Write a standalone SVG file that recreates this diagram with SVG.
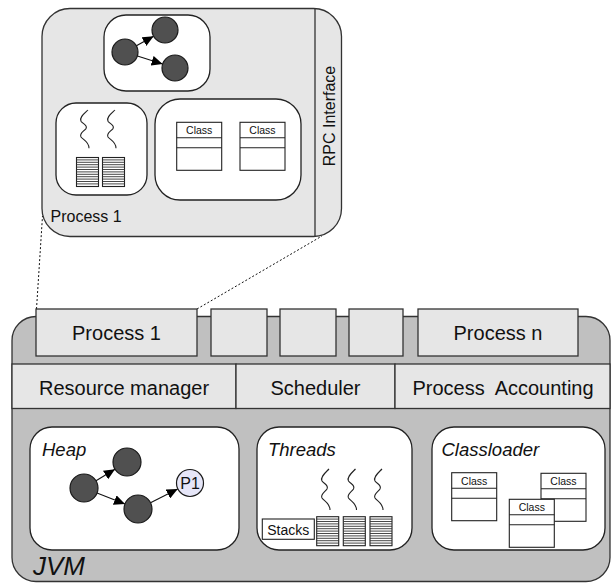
<svg xmlns="http://www.w3.org/2000/svg" xmlns:xlink="http://www.w3.org/1999/xlink" width="611" height="583" viewBox="0 0 611 583">
<style>
text{font-family:"Liberation Sans",Arial,sans-serif;fill:#111}
.box{fill:#e6e6e6;stroke:#333;stroke-width:1.3}
.inner{fill:#fff;stroke:#222;stroke-width:1.3}
.lbl{font-size:20px;text-anchor:middle}
.it{font-style:italic;font-size:18.5px}
.node{fill:#505050;stroke:#1a1a1a;stroke-width:1.2}
.edge{stroke:#111;stroke-width:1.1;fill:none;marker-end:url(#ah)}
.dot{stroke:#111;stroke-width:1;stroke-dasharray:2 2;fill:none}
.sq{fill:none;stroke:#222;stroke-width:1.1}
.cls{font-size:10.5px;text-anchor:middle}
</style>
<defs>
<marker id="ah" markerUnits="userSpaceOnUse" markerWidth="11" markerHeight="10" refX="11" refY="5" orient="auto">
<path d="M0,0 L11,5 L0,10 z" fill="#000"/>
</marker>
<g id="stack">
<rect x="0" y="0" width="22" height="29" fill="#fff" stroke="#222" stroke-width="1.1"/>
<path d="M0,2.4H22M0,4.8H22M0,7.2H22M0,9.6H22M0,12H22M0,14.4H22M0,16.8H22M0,19.2H22M0,21.6H22M0,24H22M0,26.4H22" stroke="#333" stroke-width="0.9"/>
</g>
<path id="squig" class="sq" d="M5,0 C1,4 -4,8 -2,12 C0,15 5,16 3,20 C1,23 -4,25 -2,29 C0,32 6,34 6,41"/>
<g id="classbox">
<rect x="0" y="0" width="45" height="48" fill="#fff" stroke="#222" stroke-width="1.1"/>
<path d="M0,15.5H45M0,25.5H45" stroke="#222" stroke-width="1.1"/>
<text class="cls" x="22.5" y="12">Class</text>
</g>
</defs>

<g id="connectors">
<line class="dot" x1="36.5" y1="309" x2="42.5" y2="216"/>
<line class="dot" x1="197" y1="309" x2="322" y2="236"/>
</g>

<g id="process1-detail">
<rect class="box" x="42" y="8.5" width="299.5" height="228" rx="28"/>
<line x1="315" y1="8.5" x2="315" y2="236.5" stroke="#333" stroke-width="1.3"/>
<text x="335" y="116" transform="rotate(-90 335 116)" font-size="16" text-anchor="middle">RPC Interface</text>
<text x="50.5" y="221.5" font-size="16">Process 1</text>
<g id="p1-heap">
<rect class="inner" x="104" y="15" width="106" height="76" rx="22"/>
<line class="edge" x1="136.4" y1="45.7" x2="153.6" y2="36.3"/>
<line class="edge" x1="137.4" y1="56" x2="162.6" y2="64"/>
<circle class="node" cx="125" cy="52" r="13"/>
<circle class="node" cx="165" cy="30" r="13"/>
<circle class="node" cx="175" cy="68" r="13"/>
</g>
<g id="p1-threads">
<rect class="inner" x="56" y="103" width="91" height="92" rx="20"/>
<use xlink:href="#squig" transform="translate(83,110) scale(1,0.93)"/>
<use xlink:href="#squig" transform="translate(110,110) scale(1,0.93)"/>
<use xlink:href="#stack" x="76.5" y="157.5"/>
<use xlink:href="#stack" x="102.5" y="157.5"/>
</g>
<g id="p1-classes">
<rect class="inner" x="155" y="99" width="146" height="101" rx="25"/>
<use xlink:href="#classbox" x="176.7" y="122.3"/>
<use xlink:href="#classbox" x="240" y="122.3"/>
</g>
</g>

<g id="jvm">
<rect x="12" y="316.5" width="598" height="265" rx="24" fill="#c0c0c0" stroke="#333" stroke-width="1.3"/>
<text x="33" y="575" font-style="italic" font-size="26">JVM</text>
</g>

<g id="process-tabs">
<g id="tab-process1"><rect class="box" x="36" y="309" width="161" height="47"/><text class="lbl" x="116.5" y="340">Process 1</text></g>
<g id="tab-2"><rect class="box" x="211" y="309" width="56" height="47"/></g>
<g id="tab-3"><rect class="box" x="280" y="309" width="56" height="47"/></g>
<g id="tab-4"><rect class="box" x="349" y="309" width="54" height="47"/></g>
<g id="tab-processn"><rect class="box" x="418" y="309" width="160" height="47"/><text class="lbl" x="498" y="340">Process n</text></g>
</g>

<g id="services">
<g id="resource-manager"><rect class="box" x="12" y="364" width="224" height="44.5"/><text class="lbl" x="124" y="395">Resource manager</text></g>
<g id="scheduler"><rect class="box" x="236" y="364" width="159" height="44.5"/><text class="lbl" x="315.5" y="395">Scheduler</text></g>
<g id="accounting"><rect class="box" x="395" y="364" width="215" height="44.5"/><text class="lbl" x="503" y="395" xml:space="preserve">Process  Accounting</text></g>
</g>

<g id="heap">
<rect class="inner" x="30" y="427" width="209" height="123" rx="22"/>
<text class="it" x="42" y="456">Heap</text>
<line class="edge" x1="96" y1="480.7" x2="115" y2="469.3"/>
<line class="edge" x1="97" y1="493" x2="125" y2="504"/>
<line class="edge" x1="150.5" y1="502.7" x2="177.7" y2="489.1"/>
<circle class="node" cx="84" cy="488" r="14"/>
<circle class="node" cx="127" cy="462" r="14"/>
<circle class="node" cx="138" cy="509" r="14"/>
<circle cx="190" cy="483" r="13.5" fill="#e6e6f8" stroke="#1a1a1a" stroke-width="1.2"/>
<text x="190" y="489" font-size="16" text-anchor="middle">P1</text>
</g>

<g id="threads">
<rect class="inner" x="257" y="427" width="155" height="123" rx="22"/>
<text class="it" x="268" y="456">Threads</text>
<use xlink:href="#squig" x="324" y="469"/>
<use xlink:href="#squig" x="350.5" y="469"/>
<use xlink:href="#squig" x="377" y="469"/>
<rect x="262.3" y="519" width="52" height="20.3" fill="#fff" stroke="#222" stroke-width="1.1"/>
<text x="288.3" y="535" font-size="14" text-anchor="middle">Stacks</text>
<use xlink:href="#stack" x="316.7" y="516.7"/>
<use xlink:href="#stack" x="343.3" y="516.7"/>
<use xlink:href="#stack" x="370" y="516.7"/>
</g>

<g id="classloader">
<rect class="inner" x="432" y="427" width="173" height="123" rx="22"/>
<text class="it" x="441.5" y="456">Classloader</text>
<use xlink:href="#classbox" x="451.7" y="472.7"/>
<use xlink:href="#classbox" x="541" y="473.3"/>
<use xlink:href="#classbox" x="509.3" y="499.3"/>
</g>
</svg>
